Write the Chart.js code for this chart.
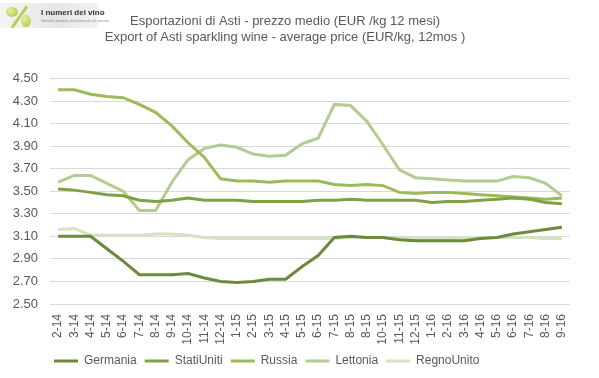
<!DOCTYPE html>
<html>
<head>
<meta charset="utf-8">
<script src="https://cdn.jsdelivr.net/npm/chart.js@4/dist/chart.umd.min.js"></script>
<style>
    html, body { margin: 0; padding: 0; background: #fff; }
    #wrap { position: relative; width: 599px; height: 378px; }
    #logo {
        position: absolute; left: 0; top: 3px; width: 98px; height: 25px;
        background: linear-gradient(to right, #f4f4f4, #e6e6e6 60%, #f2f2f2);
        font-family: "Liberation Sans", sans-serif;
    }
    #logo .g1, #logo .g2 { position: absolute; border-radius: 50%; background: radial-gradient(circle at 35% 35%, #e3f0a0, #a8c43c); }
    #logo .g1 { left: 6px; top: 4px; width: 12px; height: 10px; }
    #logo .g2 { left: 21px; top: 12px; width: 10px; height: 12px; }
    #logo .slash { position: absolute; left: 18px; top: 1px; width: 3px; height: 26px; background: #b9cf5a; transform: rotate(35deg); }
    #logo .t1 { position: absolute; left: 41px; top: 5px; font-size: 8px; font-weight: bold; color: #333; white-space: nowrap; }
    #logo .t2 { position: absolute; left: 41px; top: 16px; font-size: 3px; color: #888; white-space: nowrap; }
    canvas { position: absolute; left: 0; top: 0; }
</style>
</head>
<body>
<div id="wrap">
    <canvas id="chart" width="599" height="378"></canvas>
    <div id="logo">
        <div class="slash"></div>
        <div class="g1"></div>
        <div class="g2"></div>
        <div class="t1">I numeri del vino</div>
        <div class="t2">Statistiche produttive, dati di mercato e di consumo</div>
    </div>
</div>
<script>
// month-year labels (the source repeats 8-15)
const labels = ['2-14', '3-14', '4-14', '5-14', '6-14', '7-14', '8-14', '9-14', '10-14', '11-14', '12-14',
    '1-15', '2-15', '3-15', '4-15', '5-15', '6-15', '7-15', '8-15', '8-15', '10-15', '11-15', '12-15',
    '1-16', '2-16', '3-16', '4-16', '5-16', '6-16', '7-16', '8-16', '9-16'];

const germania = [3.10, 3.10, 3.10, 2.99, 2.88, 2.76, 2.76, 2.76, 2.77, 2.73, 2.70,
    2.69, 2.70, 2.72, 2.72, 2.83, 2.93, 3.09, 3.10, 3.09, 3.09, 3.07,
    3.06, 3.06, 3.06, 3.06, 3.08, 3.09, 3.12, 3.14, 3.16, 3.18];
const statiUniti = [3.52, 3.51, 3.49, 3.47, 3.46, 3.42, 3.41, 3.42, 3.44, 3.42, 3.42,
    3.42, 3.41, 3.41, 3.41, 3.41, 3.42, 3.42, 3.43, 3.42, 3.42, 3.42,
    3.42, 3.40, 3.41, 3.41, 3.42, 3.43, 3.44, 3.43, 3.40, 3.39];
const russia = [4.40, 4.40, 4.36, 4.34, 4.33, 4.27, 4.20, 4.08, 3.93, 3.80, 3.61,
    3.59, 3.59, 3.58, 3.59, 3.59, 3.59, 3.56, 3.55, 3.56, 3.55, 3.49,
    3.48, 3.49, 3.49, 3.48, 3.47, 3.46, 3.45, 3.44, 3.43, 3.44];
const lettonia = [3.58, 3.64, 3.64, 3.57, 3.50, 3.33, 3.33, 3.58, 3.78, 3.88, 3.91,
    3.89, 3.83, 3.81, 3.82, 3.92, 3.97, 4.27, 4.26, 4.12, 3.91, 3.69,
    3.62, 3.61, 3.60, 3.59, 3.59, 3.59, 3.63, 3.62, 3.57, 3.46];
const regnoUnito = [3.16, 3.17, 3.11, 3.11, 3.11, 3.11, 3.12, 3.12, 3.11, 3.09, 3.08,
    3.08, 3.08, 3.08, 3.08, 3.08, 3.08, 3.08, 3.09, 3.09, 3.09, 3.08,
    3.08, 3.08, 3.08, 3.09, 3.09, 3.09, 3.09, 3.09, 3.08, 3.08];

const seriesNames = ['Germania', 'StatiUniti', 'Russia', 'Lettonia', 'RegnoUnito'];
const seriesColors = ['#6b8a3b', '#7fa046', '#9bbb59', '#b3cc8f', '#d4e3c1'];
const seriesData = [germania, statiUniti, russia, lettonia, regnoUnito];

const yTicks = [2.50, 2.70, 2.90, 3.10, 3.30, 3.50, 3.70, 3.90, 4.10, 4.30, 4.50];

const sans = '"Liberation Sans", Arial, sans-serif';
const textColor = '#595959';

// move the legend a bit to the left, like the original
const legendShift = {
    id: 'legendShift',
    beforeDraw(chart) {
        chart.legend.left = 46;
    }
};

const ctx = document.getElementById('chart').getContext('2d');
new Chart(ctx, {
    type: 'line',
    data: {
        labels: labels,
        datasets: seriesNames.map((name, i) => ({
            label: name,
            data: seriesData[i],
            borderColor: seriesColors[i],
            backgroundColor: seriesColors[i],
            borderWidth: 3,
            pointRadius: 0,
            tension: 0,
            fill: false
        }))
    },
    options: {
        responsive: false,
        animation: false,
        layout: { padding: { left: 0, right: 29, top: 0, bottom: 1 } },
        plugins: {
            title: {
                display: true,
                text: ['Esportazioni di Asti - prezzo medio (EUR /kg 12 mesi)',
                       'Export of Asti sparkling wine - average price (EUR/kg, 12mos )'],
                color: textColor,
                font: { family: sans, size: 13, weight: 'normal', lineHeight: 1.25 },
                padding: { top: 13, bottom: 33 }
            },
            legend: {
                position: 'bottom',
                align: 'start',
                labels: {
                    usePointStyle: true,
                    pointStyle: 'line',
                    pointStyleWidth: 24,
                    boxHeight: 12,
                    padding: 8,
                    color: textColor,
                    font: { family: sans, size: 12 }
                }
            },
            tooltip: { enabled: false }
        },
        scales: {
            x: {
                offset: true,
                afterFit(scale) { scale.height = 43; },
                grid: { display: false, drawTicks: false },
                border: { display: false },
                ticks: {
                    autoSkip: false,
                    maxRotation: 90,
                    minRotation: 90,
                    padding: 10,
                    color: textColor,
                    font: { family: sans, size: 12 }
                }
            },
            y: {
                min: 2.5,
                max: 4.5,
                afterFit(scale) { scale.width = 50; },
                afterBuildTicks(scale) { scale.ticks = yTicks.map(v => ({ value: v })); },
                grid: { color: '#d9d9d9', lineWidth: 1, drawTicks: false },
                border: { display: false },
                ticks: {
                    padding: 12,
                    color: textColor,
                    font: { family: sans, size: 13 },
                    callback: v => v.toFixed(2)
                }
            }
        }
    },
    plugins: [legendShift]
});
</script>
</body>
</html>
